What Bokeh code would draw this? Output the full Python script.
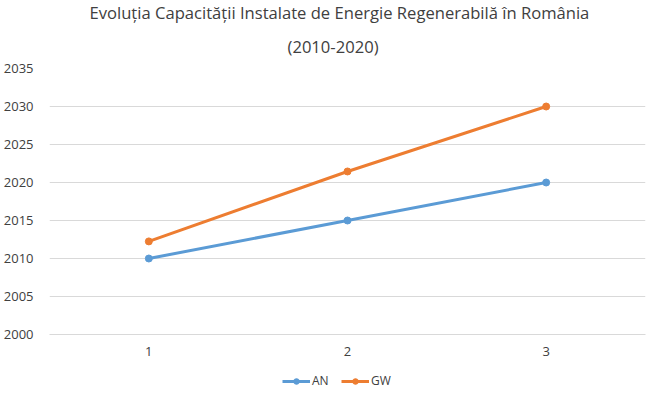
from bokeh.plotting import figure
from bokeh.models import FactorRange, Range1d, Legend, LegendItem, Title
from bokeh.layouts import column
from bokeh.embed import file_html
from bokeh.resources import INLINE

categories = ["1", "2", "3"]
an_values = [2010, 2015, 2020]
gw_values = [2012.25, 2021.45, 2030]
y_ticks = [2000, 2005, 2010, 2015, 2020, 2025, 2030, 2035]
series_names = ["AN", "GW"]
series_colors = ["#5B9BD5", "#ED7D31"]

FONT = "Open Sans"
TXT = "#404040"

p = figure(width=650, height=364, output_backend="svg", toolbar_location=None,
           x_range=FactorRange(factors=categories, range_padding=0),
           y_range=Range1d(2000, 2035))
p.min_border_left = 41
p.min_border_right = 5
p.min_border_bottom = 30
p.min_border_top = 11
p.outline_line_color = None
p.background_fill_color = "white"
p.border_fill_color = "white"

p.add_layout(Title(text="(2010-2020)", align="left", text_font=FONT, text_line_height=1.0,
                   text_font_size="16.6px", text_font_style="normal", text_color=TXT,
                   standoff=22, offset=238), "above")
p.add_layout(Title(text="Evoluția Capacității Instalate de Energie Regenerabilă în România",
                   align="left", text_font=FONT, text_font_size="16.6px", text_line_height=1.0,
                   text_font_style="normal", text_color=TXT, standoff=-4, offset=40), "above")

for vals, col in zip([an_values, gw_values], series_colors):
    p.line(categories, vals, line_color=col, line_width=3)
    p.scatter(categories, vals, marker="circle", size=7, fill_color=col, line_color=col)

p.yaxis.ticker = y_ticks
p.yaxis.axis_line_color = None
p.yaxis.major_tick_line_color = None
p.yaxis.minor_tick_line_color = None
p.yaxis.major_label_text_font = FONT
p.yaxis.major_label_text_font_size = "13px"
p.yaxis.major_label_text_color = TXT
p.yaxis.major_label_standoff = 10

p.xaxis.axis_line_color = "#d9d9d9"
p.xaxis.major_tick_line_color = None
p.xaxis.minor_tick_line_color = None
p.xaxis.major_label_text_font = FONT
p.xaxis.major_label_text_font_size = "13px"
p.xaxis.major_label_text_color = TXT
p.xaxis.major_label_standoff = 6

p.xgrid.grid_line_color = None
p.ygrid.grid_line_color = "#d9d9d9"
p.ygrid.ticker = y_ticks

# legend strip below the chart
lg = figure(width=650, height=22, output_backend="svg", toolbar_location=None,
            x_range=FactorRange(factors=categories), y_range=Range1d(0, 1),
            x_axis_location=None, y_axis_location=None)
lg.min_border = 0
lg.outline_line_color = None
lg.grid.visible = False
items = []
for name, vals, col in zip(series_names, [an_values, gw_values], series_colors):
    rl = lg.line(categories, vals, line_color=col, line_width=3)
    rm = lg.scatter(categories, vals, marker="circle", size=7, fill_color=col, line_color=col)
    items.append(LegendItem(label=name, renderers=[rl, rm]))
legend = Legend(items=items, orientation="horizontal", location=(233, -3),
                label_text_font=FONT, label_text_font_size="12px", label_text_color=TXT,
                border_line_color=None, background_fill_alpha=0,
                glyph_width=28, glyph_height=14, spacing=9, label_standoff=2, padding=0, margin=0)
lg.add_layout(legend, "center")

layout = column(p, lg, spacing=0)
open("out.html", "w").write(file_html(layout, INLINE))
